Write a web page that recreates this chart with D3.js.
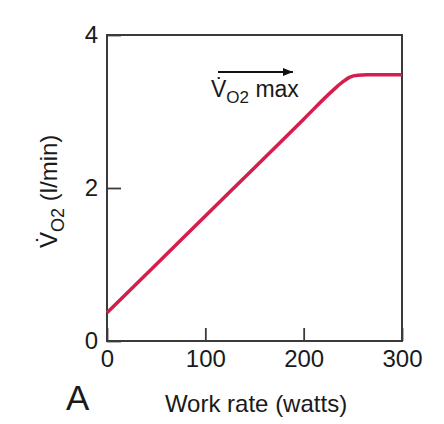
<!DOCTYPE html>
<html>
<head>
<meta charset="utf-8">
<script src="https://cdn.jsdelivr.net/npm/d3@7"></script>
<style>
  body { margin: 0; background: #fff; }
  svg { display: block; font-family: "Liberation Sans", Arial, sans-serif; }
</style>
</head>
<body>
<svg></svg>
<script>
const width = 444;
const height = 424;

// data
const workRate = [0, 50, 100, 150, 200, 230, 240, 247, 255, 265, 300];
const vo2 = [0.37, 1.0, 1.635, 2.265, 2.9, 3.28, 3.39, 3.45, 3.475, 3.48, 3.48];
const xTicks = [0, 100, 200, 300];
const yTicks = [0, 2, 4];

const margin = {left: 107, right: 42, top: 35, bottom: 83};

const svg = d3.select('svg')
    .attr('width', width).attr('height', height);

const x = d3.scaleLinear().domain([0, 300]).range([margin.left, width - margin.right]);
const y = d3.scaleLinear().domain([0, 4]).range([height - margin.bottom, margin.top]);

const axisColor = '#3a3a3a';

// x axis, ticks point inward
const gx = svg.append('g')
    .attr('transform', `translate(0,${y(0)})`)
    .call(d3.axisBottom(x).tickValues(xTicks).tickFormat(d3.format('d'))
        .tickSizeInner(-13).tickSizeOuter(0).tickPadding(9));
gx.select('.domain').remove();

const gy = svg.append('g')
    .attr('transform', `translate(${x(0)},0)`)
    .call(d3.axisLeft(y).tickValues(yTicks).tickFormat(d3.format('d'))
        .tickSizeInner(-14).tickSizeOuter(0).tickPadding(9));
gy.select('.domain').remove();

svg.selectAll('.tick line').attr('stroke', axisColor).attr('stroke-width', 1.8);
svg.selectAll('.tick text')
    .attr('font-size', 24)
    .attr('font-family', '"Liberation Sans", Arial, sans-serif')
    .attr('fill', '#1a1a1a');

// frame
svg.append('rect')
    .attr('x', x(0)).attr('y', y(4))
    .attr('width', x(300) - x(0)).attr('height', y(0) - y(4))
    .attr('fill', 'none')
    .attr('stroke', axisColor)
    .attr('stroke-width', 2);

// VO2 curve
const line = d3.line()
    .x((d, i) => x(workRate[i]))
    .y(d => y(d))
    .curve(d3.curveMonotoneX);

svg.append('path')
    .datum(vo2)
    .attr('d', line)
    .attr('fill', 'none')
    .attr('stroke', '#d41e4e')
    .attr('stroke-width', 3.5);

// arrow + VO2 max note
svg.append('defs').append('marker')
    .attr('id', 'head')
    .attr('viewBox', '0 0 10 8')
    .attr('refX', 10).attr('refY', 4)
    .attr('markerWidth', 10).attr('markerHeight', 8)
    .attr('markerUnits', 'userSpaceOnUse')
    .attr('orient', 'auto')
    .append('path')
    .attr('d', 'M0,0L10,4L0,8Z')
    .attr('fill', '#111');

svg.append('line')
    .attr('x1', 218).attr('y1', 72)
    .attr('x2', 293).attr('y2', 72)
    .attr('stroke', '#111')
    .attr('stroke-width', 2)
    .attr('marker-end', 'url(#head)');

const note = svg.append('text')
    .attr('x', 211).attr('y', 97)
    .attr('font-size', 23)
    .attr('fill', '#1a1a1a');
note.append('tspan').text('V\u0307');
note.append('tspan').attr('font-size', 17).attr('dy', 6).text('O2');
note.append('tspan').attr('dy', -6).text(' max');

// y label
const yl = svg.append('text')
    .attr('transform', 'translate(57,248) rotate(-90)')
    .attr('font-size', 24)
    .attr('fill', '#1a1a1a');
yl.append('tspan').text('V\u0307');
yl.append('tspan').attr('font-size', 18).attr('dy', 7).text('O2');
yl.append('tspan').attr('dy', -7).text(' (l/min)');

// x label
svg.append('text')
    .attr('x', 256).attr('y', 412)
    .attr('text-anchor', 'middle')
    .attr('font-size', 24)
    .attr('fill', '#1a1a1a')
    .text('Work rate (watts)');

svg.append('text')
    .attr('x', 66).attr('y', 410)
    .attr('font-size', 35)
    .attr('fill', '#1a1a1a')
    .text('A');
</script>
</body>
</html>
